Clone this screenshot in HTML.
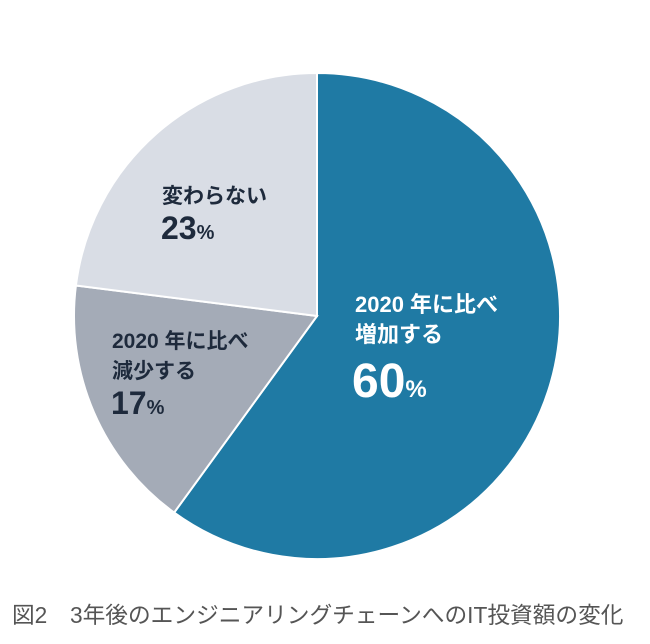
<!DOCTYPE html>
<html><head><meta charset="utf-8"><style>
body{margin:0;background:#fff;width:650px;height:639px;overflow:hidden}
svg text{font-family:"Liberation Sans","Noto Sans CJK JP",sans-serif;font-weight:bold}
</style></head><body>
<svg id="chart" width="650" height="639" xmlns="http://www.w3.org/2000/svg">
<g id="slices"></g>
<g id="labels" fill="#1e2a3c">
<text x="162" y="203" font-size="21">変わらない</text>
<text x="161" y="239" font-size="32">23<tspan font-size="20">%</tspan></text>
<text x="355" y="312" font-size="22" fill="#fff">2020 年に比べ</text>
<text x="355" y="342" font-size="22" fill="#fff">増加する</text>
<text x="352" y="397" font-size="48" fill="#fff">60<tspan font-size="24">%</tspan></text>
<text x="112" y="348" font-size="21">2020 年に比べ</text>
<text x="112" y="378" font-size="21">減少する</text>
<text x="111" y="414" font-size="32">17<tspan font-size="20">%</tspan></text>
</g>
<text x="12" y="623" font-size="22.7" fill="#555" style="font-weight:normal">図2　3年後のエンジニアリングチェーンへのIT投資額の変化</text>
</svg>
<script>
const categories = ["increase", "decrease", "unchanged"];
const values = [60, 17, 23];
const colors = ["#1f7aa4", "#a4abb7", "#d9dde5"];
const cx = 317, cy = 316, r = 243;
const g = document.getElementById('slices');
const total = values.reduce((a, b) => a + b, 0);
let start = 0;
values.forEach((v, i) => {
  const end = start + v / total * 2 * Math.PI;
  const x1 = cx + r * Math.sin(start), y1 = cy - r * Math.cos(start);
  const x2 = cx + r * Math.sin(end), y2 = cy - r * Math.cos(end);
  const large = (end - start) > Math.PI ? 1 : 0;
  const p = document.createElementNS('http://www.w3.org/2000/svg', 'path');
  p.setAttribute('d', `M${cx},${cy} L${x1},${y1} A${r},${r} 0 ${large} 1 ${x2},${y2} Z`);
  p.setAttribute('fill', colors[i]);
  p.setAttribute('stroke', '#fff');
  p.setAttribute('stroke-width', '2');
  
  
  g.appendChild(p);
  start = end;
});
</script>
</body></html>
